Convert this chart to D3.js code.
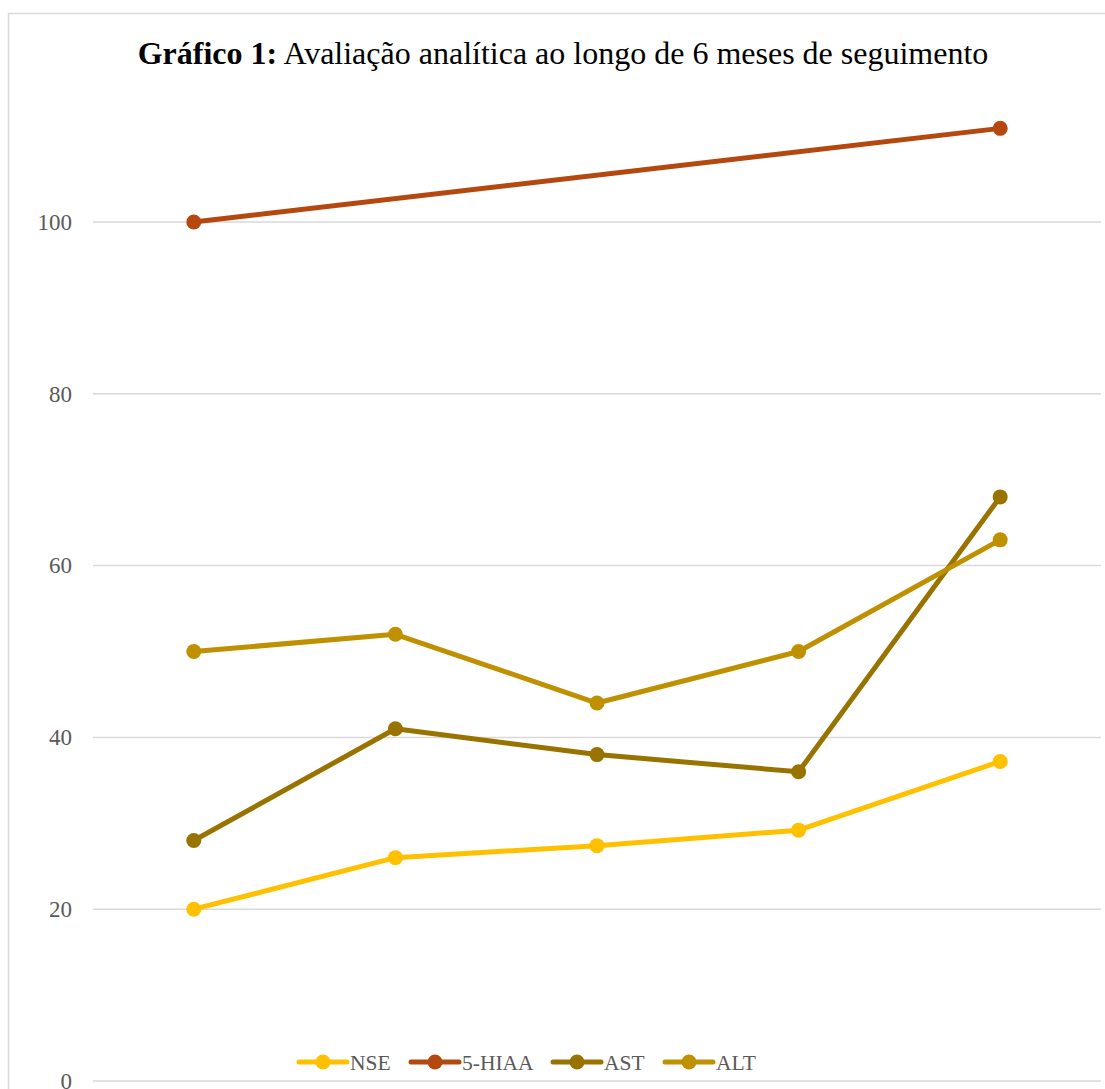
<!DOCTYPE html>
<html>
<head>
<meta charset="utf-8">
<script src="https://cdn.jsdelivr.net/npm/d3@7"></script>
<style>
  body { margin: 0; background: #fff; }
  svg { display: block; font-family: "Liberation Serif", "Times New Roman", serif; }
</style>
</head>
<body>
<div id="chart"></div>
<script>
// data
const months = ["M0", "M1", "M2", "M3", "M6"];
const yTicks = [0, 20, 40, 60, 80, 100];
const seriesNames = ["NSE", "5-HIAA", "AST", "ALT"];
const seriesColors = ["#FFC000", "#B5480F", "#997300", "#BF9000"];
const nseValues = [20, 26, 27.4, 29.2, 37.2];
const hiaaValues = [100, null, null, null, 110.9];
const astValues = [28, 41, 38, 36, 68];
const altValues = [50, 52, 44, 50, 63];

const series = [nseValues, hiaaValues, astValues, altValues].map((vals, i) => ({
    name: seriesNames[i],
    color: seriesColors[i],
    points: vals.map((v, j) => ({ m: months[j], v: v })).filter(p => p.v != null)
}));

const width = 1105, height = 1089;
const serif = "Liberation Serif, Times New Roman, serif";
const svg = d3.select("#chart").append("svg")
    .attr("width", width)
    .attr("height", height);

// chart frame
svg.append("rect")
    .attr("x", 8.5).attr("y", 13.5)
    .attr("width", 1110).attr("height", 1100)
    .attr("fill", "none")
    .attr("stroke", "#d9d9d9")
    .attr("stroke-width", 1.5);

const x = d3.scaleBand().domain(months).range([93, 1101]);
const y = d3.scaleLinear().domain([0, 100]).range([1081, 222]);

// gridlines
svg.append("g")
    .selectAll("line")
    .data(yTicks)
    .enter()
    .append("line")
    .attr("x1", 93).attr("x2", 1101)
    .attr("y1", d => y(d)).attr("y2", d => y(d))
    .style("stroke", "#d9d9d9")
    .style("stroke-width", 1.5);

// y axis labels
const yAxis = svg.append("g")
    .attr("transform", "translate(93,0)")
    .call(d3.axisLeft(y).tickValues(yTicks).tickSize(0).tickPadding(21));
yAxis.select(".domain").remove();
yAxis.selectAll("text")
    .attr("font-family", serif)
    .attr("font-size", 23)
    .attr("fill", "#595959");

// title
const title = svg.append("text")
    .attr("x", 563).attr("y", 64)
    .attr("text-anchor", "middle")
    .attr("font-family", serif)
    .attr("font-size", 32)
    .attr("fill", "#000");
title.append("tspan").attr("font-weight", "bold").text("Gráfico 1:");
title.append("tspan").text(" Avaliação analítica ao longo de 6 meses de seguimento");

// lines
const line = d3.line()
    .x(d => x(d.m) + x.bandwidth() / 2)
    .y(d => y(d.v));

const g = svg.append("g");
series.forEach(s => {
    g.append("path")
        .datum(s.points)
        .attr("d", line)
        .attr("fill", "none")
        .attr("stroke", s.color)
        .attr("stroke-width", 5)
        .attr("stroke-linejoin", "round")
        .attr("stroke-linecap", "round");
    g.selectAll(null)
        .data(s.points)
        .enter()
        .append("circle")
        .attr("cx", d => x(d.m) + x.bandwidth() / 2)
        .attr("cy", d => y(d.v))
        .attr("r", 7.5)
        .attr("fill", s.color);
});

// legend
const legendX = [299, 411, 553, 665];
const legend = svg.append("g");
series.forEach((s, i) => {
    const lg = legend.append("g").attr("transform", `translate(${legendX[i]},1062)`);
    lg.append("line")
        .attr("x1", 0).attr("x2", 48)
        .attr("stroke", s.color)
        .attr("stroke-width", 5)
        .attr("stroke-linecap", "round");
    lg.append("circle").attr("cx", 24).attr("r", 7.5).attr("fill", s.color);
    lg.append("text")
        .attr("x", 51).attr("y", 7.5)
        .attr("font-family", serif)
        .attr("font-size", 21.5)
        .attr("fill", "#595959")
        .text(s.name);
});
</script>
</body>
</html>
